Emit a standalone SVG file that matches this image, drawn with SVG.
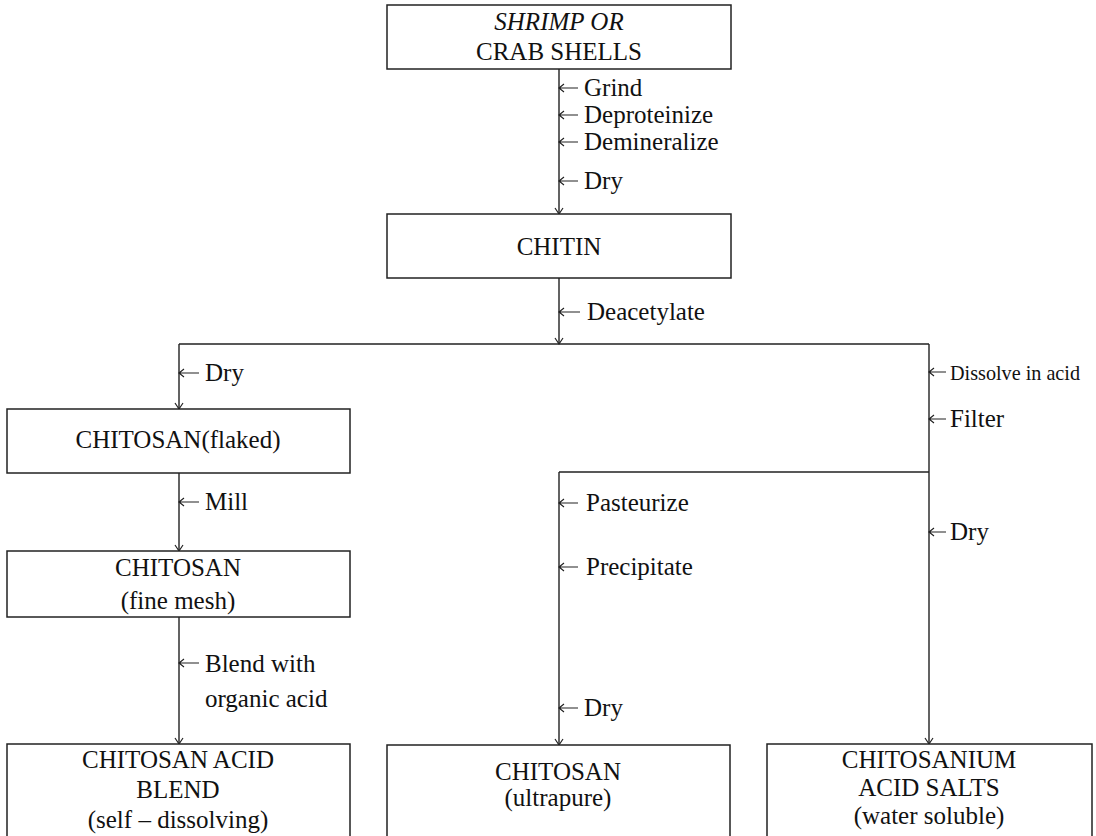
<svg xmlns="http://www.w3.org/2000/svg" width="1096" height="836" viewBox="0 0 1096 836">
<style>
.box{fill:#fff;stroke:#222;stroke-width:1.5}
.ln{fill:none;stroke:#222;stroke-width:1.4}
.ar{fill:none;stroke:#222;stroke-width:1.2}
text{font-family:"Liberation Serif","Times New Roman",serif;font-size:25px;fill:#111}
.c{text-anchor:middle}
.s{font-size:22px}
</style>
<rect width="1096" height="836" fill="#fff"/>
<g id="connectors">
<path class="ln" d="M559 69V214M559 278V344M179 344H929M179 344V409M179 473V551M179 617V744M929 344V744M559 472H929M559 472V745"/>
<path class="ar" d="M555 208L559 214L563 208M555 338L559 344L563 338M175 403L179 409L183 403M175 545L179 551L183 545M175 738L179 744L183 738M925 738L929 744L933 738M555 739L559 745L563 739"/>
<path class="ar" d="M559 88H578M564 84L559 88L564 92M559 115H578M564 111L559 115L564 119M559 142H578M564 138L559 142L564 146M559 181H578M564 177L559 181L564 185M559 312H580M564 308L559 312L564 316M179 373H199M184 369L179 373L184 377M179 502H199M184 498L179 502L184 506M179 663H199M184 659L179 663L184 667M929 372H946M934 368L929 372L934 376M929 419H946M934 415L929 419L934 423M929 532H946M934 528L929 532L934 536M559 503H578M564 499L559 503L564 507M559 567H578M564 563L559 567L564 571M559 708H578M564 704L559 708L564 712"/>
<text x="584" y="96">Grind</text>
<text x="584" y="123">Deproteinize</text>
<text x="584" y="150">Demineralize</text>
<text x="584" y="189">Dry</text>
<text x="587" y="320">Deacetylate</text>
<text x="205" y="381">Dry</text>
<text x="205" y="510">Mill</text>
<text x="205" y="672">Blend with</text>
<text x="205" y="707">organic acid</text>
<text class="s" x="950" y="380" textLength="130" lengthAdjust="spacingAndGlyphs">Dissolve in acid</text>
<text x="950" y="427">Filter</text>
<text x="950" y="540">Dry</text>
<text x="586" y="511">Pasteurize</text>
<text x="586" y="575">Precipitate</text>
<text x="584" y="716">Dry</text>
</g>
<g id="shells">
<rect class="box" x="387" y="5" width="344" height="64"/>
<text class="c" x="559" y="30" font-style="italic">SHRIMP OR</text>
<text class="c" x="559" y="60">CRAB SHELLS</text>
</g>
<g id="chitin">
<rect class="box" x="387" y="214" width="344" height="64"/>
<text class="c" x="559" y="255">CHITIN</text>
</g>
<g id="flaked">
<rect class="box" x="7" y="409" width="343" height="64"/>
<text class="c" x="178" y="448">CHITOSAN(flaked)</text>
</g>
<g id="finemesh">
<rect class="box" x="7" y="551" width="343" height="66"/>
<text class="c" x="178" y="576">CHITOSAN</text>
<text class="c" x="178" y="609">(fine mesh)</text>
</g>
<g id="blend">
<rect class="box" x="7" y="744" width="343" height="100"/>
<text class="c" x="178" y="768">CHITOSAN ACID</text>
<text class="c" x="178" y="798">BLEND</text>
<text class="c" x="178" y="828">(self – dissolving)</text>
</g>
<g id="ultrapure">
<rect class="box" x="387" y="745" width="343" height="100"/>
<text class="c" x="558" y="780">CHITOSAN</text>
<text class="c" x="558" y="806">(ultrapure)</text>
</g>
<g id="salts">
<rect class="box" x="767" y="744" width="325" height="100"/>
<text class="c" x="929" y="768">CHITOSANIUM</text>
<text class="c" x="929" y="796">ACID SALTS</text>
<text class="c" x="929" y="824">(water soluble)</text>
</g>
</svg>
